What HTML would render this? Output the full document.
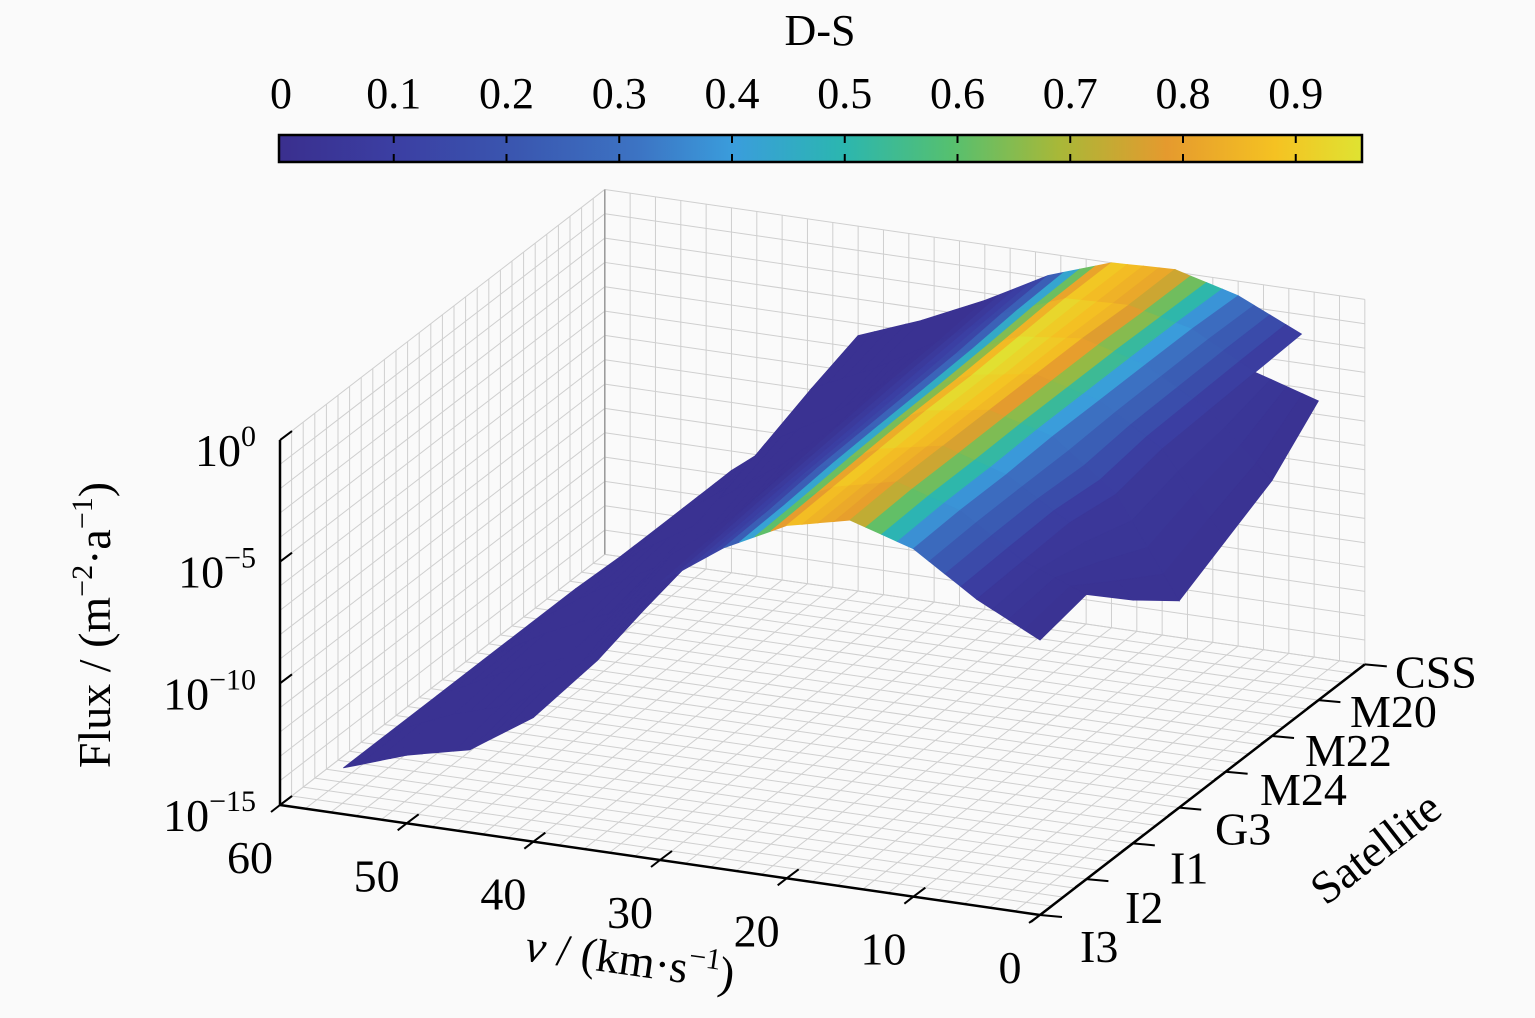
<!DOCTYPE html>
<html><head><meta charset="utf-8">
<style>
html,body{margin:0;padding:0;background:#fafafa;}
svg{display:block;font-family:"Liberation Serif",serif;}
</style></head>
<body>
<svg id="chart" width="1535" height="1018" viewBox="0 0 1535 1018" xmlns="http://www.w3.org/2000/svg" style="position:absolute;left:0;top:0">
<defs>
<linearGradient id="parula" x1="0" x2="1" y1="0" y2="0">
<stop offset="0" stop-color="#3a2f8e"/>
<stop offset="0.11" stop-color="#3b3fa3"/>
<stop offset="0.22" stop-color="#3a57b0"/>
<stop offset="0.33" stop-color="#3c73c3"/>
<stop offset="0.42" stop-color="#3a9ddc"/>
<stop offset="0.52" stop-color="#2bb6b0"/>
<stop offset="0.62" stop-color="#55c070"/>
<stop offset="0.72" stop-color="#a8b838"/>
<stop offset="0.82" stop-color="#e59a2e"/>
<stop offset="0.92" stop-color="#f5c222"/>
<stop offset="1" stop-color="#dfe332"/>
</linearGradient>
</defs>
<g id="grid"></g>
<g id="surface"></g>
<g id="axes"></g>
<g>
<text x="820" y="45" font-size="44" text-anchor="middle">D-S</text>
<rect x="279" y="135" width="1083" height="27" fill="url(#parula)" stroke="#000" stroke-width="2.5"/>
<g id="cbticks"></g>
</g>
<text transform="translate(110,625) rotate(-90)" font-size="46" text-anchor="middle">Flux / (m<tspan dy="-18" font-size="30">−2</tspan><tspan dy="18">·a</tspan><tspan dy="-18" font-size="30">−1</tspan><tspan dy="18">)</tspan></text>
<text transform="translate(628,975) rotate(8)" font-size="46" text-anchor="middle"><tspan font-style="italic">v</tspan> / (km·s<tspan dy="-18" font-size="30">−1</tspan><tspan dy="18">)</tspan></text>
<text transform="translate(1385,860) rotate(-38)" font-size="46" text-anchor="middle">Satellite</text>
</svg>
<script>
// ---- data ----
const vGrid = [0,5,10,15,20,25,30,35,40,45,50,55,60];
const satellites = ["I3","I2","I1","G3","M24","M22","M20","CSS"];
// log10 flux for each satellite at vGrid
const fluxI3  = [-3.7,-2.4,-0.7,0.1,-0.5,-1.8,-3.6,-7.2,-9.9,-11.6,-12.2,-13.1,null];
const fluxI2  = [-3.3,-2.3,-0.6,0.2,-0.4,-1.7,-3.4,-6.6,-9.2,-11.2,-12.0,-13.1,null];
const fluxI1  = [-5.0,-2.2,-0.6,0.2,-0.3,-1.5,-3.2,-6.1,-8.4,-10.8,-11.8,-13.1,null];
const fluxG3  = [-6.5,-2.5,-0.5,0.2,-0.2,-1.4,-3.0,-5.6,-7.6,-10.4,-11.6,-13.1,null];
const fluxM24 = [-5.5,-2.1,-0.5,0.2,-0.2,-1.3,-2.8,-5.0,-6.8,-10.0,-11.4,-13.1,null];
const fluxM22 = [-4.5,-2.0,-0.5,0.2,-0.1,-1.2,-2.6,-4.5,-6.0,-9.6,-11.2,-13.1,null];
const fluxM20 = [-2.7,-1.9,-0.5,0.1,0.0,-1.0,-2.5,-4.0,-5.2,-9.2,-11.0,-13.2,null];
const fluxCSS = [null,-1.8,-0.6,0.1,0.0,-0.9,-2.3,-3.5,-4.5,-8.8,-10.8,-13.2,null];
// D-S value at each vGrid node
const dsAtV = [0.02,0.06,0.33,0.82,0.92,0.15,0.02,0.02,0.02,0.02,0.02,0.02,0.02];
const dsSatFactor = [0.95,0.97,1.0,1.02,1.05,1.05,1.0,0.97];
const cbTickValues = [0,0.1,0.2,0.3,0.4,0.5,0.6,0.7,0.8,0.9];
const cbTickLabels = ["0","0.1","0.2","0.3","0.4","0.5","0.6","0.7","0.8","0.9"];
const zTickValues = [0,-5,-10,-15];
const zTickExps = ["0","\u22125","\u221210","\u221215"];
const vTickValues = [60,50,40,30,20,10,0];
const fluxBySat = [fluxI3,fluxI2,fluxI1,fluxG3,fluxM24,fluxM22,fluxM20,fluxCSS];

const NS = "http://www.w3.org/2000/svg";
function P(v,s,z){
  const dv = 60 - v;
  return [280 + dv*12.667 + s*46.4, 805 + dv*1.833 - s*35.8 - (z+15)*24.33];
}
function mk(tag, attrs, parent){
  const e = document.createElementNS(NS, tag);
  for (const k in attrs) e.setAttribute(k, attrs[k]);
  parent.appendChild(e); return e;
}
const stops=[[0,[58,47,142]],[0.11,[59,63,163]],[0.22,[58,87,176]],[0.33,[60,115,195]],[0.42,[58,157,220]],[0.52,[43,182,176]],[0.62,[85,192,112]],[0.72,[168,184,56]],[0.82,[229,154,46]],[0.92,[245,194,34]],[1,[223,227,50]]];
function cmap(d){
  let t = Math.max(0, Math.min(1, d/0.96));
  for (let i=1;i<stops.length;i++){
    if (t<=stops[i][0]){
      const a=stops[i-1], b=stops[i], f=(t-a[0])/(b[0]-a[0]);
      const c=a[1].map((x,j)=>Math.round(x+(b[1][j]-x)*f));
      return `rgb(${c[0]},${c[1]},${c[2]})`;
    }
  }
  return "rgb(223,227,50)";
}
const pts = a => a.map(p=>p[0].toFixed(1)+","+p[1].toFixed(1)).join(" ");
function line(a,b,parent,stroke,w){ return mk("line",{x1:a[0],y1:a[1],x2:b[0],y2:b[1],stroke:stroke,"stroke-width":w},parent); }

// ---- grid ----
const grid = document.getElementById("grid");
const gc = "#cfcfcf";
for (let v=0; v<=60; v+=2){
  line(P(v,0,-15),P(v,7,-15),grid,gc,1);
  line(P(v,7,-15),P(v,7,0),grid,gc,1);
}
for (let s=0; s<=7.001; s+=0.25){
  line(P(0,s,-15),P(60,s,-15),grid,gc,1);
  line(P(60,s,-15),P(60,s,0),grid,gc,1);
}
for (let z=-15; z<=0; z+=1){
  line(P(0,7,z),P(60,7,z),grid,gc,1);
  line(P(60,0,z),P(60,7,z),grid,gc,1);
}
line(P(60,7,-15),P(60,7,0),grid,"#999",1.5);

// ---- surface ----
const surf = document.getElementById("surface");
const cells=[];
const SUB=4;
for (let s=0; s<satellites.length-1; s++){
  for (let i=0; i<vGrid.length-1; i++){
    const f=fluxBySat;
    const z1=f[s][i], z2=f[s][i+1], z3=f[s+1][i+1], z4=f[s+1][i];
    if ([z1,z2,z3,z4].some(z=>z===null)) continue;
    const sf=(dsSatFactor[s]+dsSatFactor[s+1])/2;
    for (let k=0;k<SUB;k++){
      const a=k/SUB, b=(k+1)/SUB;
      const va=vGrid[i]+(vGrid[i+1]-vGrid[i])*a, vb=vGrid[i]+(vGrid[i+1]-vGrid[i])*b;
      const za0=z1+(z2-z1)*a, zb0=z1+(z2-z1)*b, za1=z4+(z3-z4)*a, zb1=z4+(z3-z4)*b;
      const dm=(a+b)/2;
      const ds=(dsAtV[i]+(dsAtV[i+1]-dsAtV[i])*dm)*sf;
      cells.push({poly:[P(va,s,za0),P(vb,s,zb0),P(vb,s+1,zb1),P(va,s+1,za1)],ds,depth:s+(va+vb)/2/9});
    }
  }
}
cells.sort((a,b)=>b.depth-a.depth);
for (const c of cells){
  const col=cmap(c.ds);
  const el=mk("polygon",{points:pts(c.poly),fill:col,stroke:col,"stroke-width":0.8},surf);
  
  
}

// ---- axes ----
const ax=document.getElementById("axes");
line(P(60,0,-15),P(60,0,0),ax,"#000",2.5);
line(P(60,0,-15),P(0,0,-15),ax,"#000",2.5);
line(P(0,0,-15),P(0,7,-15),ax,"#000",2.5);
zTickValues.forEach((z,k)=>{
  const p=P(60,0,z);
  line(p,[p[0]+12,p[1]-9],ax,"#000",2);
  const t=mk("text",{x:p[0]-24,y:p[1]+26,"font-size":46,"text-anchor":"end"},ax);
  
  
  t.textContent="10";
  const e=mk("tspan",{dy:-20,"font-size":30},t); e.textContent=zTickExps[k];
});
vTickValues.forEach((v,k)=>{
  const p=P(v,0,-15);
  line(p,[p[0]+12,p[1]-9],ax,"#000",2);
  line(p,[p[0]-9,p[1]+7],ax,"#000",2);
  const t=mk("text",{x:p[0]-30,y:p[1]+68,"font-size":46,"text-anchor":"middle"},ax);
  
  
  t.textContent=String(v);
});
satellites.forEach((name,s)=>{
  const p=P(0,s,-15);
  line(p,[p[0]+22,p[1]+2],ax,"#000",2);
  line(p,[p[0]-11,p[1]+8],ax,"#000",2);
  const t=mk("text",{x:p[0]+40-1.4*s,y:p[1]+47-3.4*s,"font-size":46},ax);
  
  
  t.textContent=name;
});
// colorbar ticks
const cb=document.getElementById("cbticks");
cbTickValues.forEach((d,k)=>{
  const x=281+d*1127.5;
  if(k>0){ line([x,136],[x,143],cb,"#000",2); line([x,161],[x,154],cb,"#000",2); }
  const t=mk("text",{x:x,y:108,"font-size":44,"text-anchor":"middle"},cb);
  
  
  t.textContent=cbTickLabels[k];
});
</script>
</body></html>
